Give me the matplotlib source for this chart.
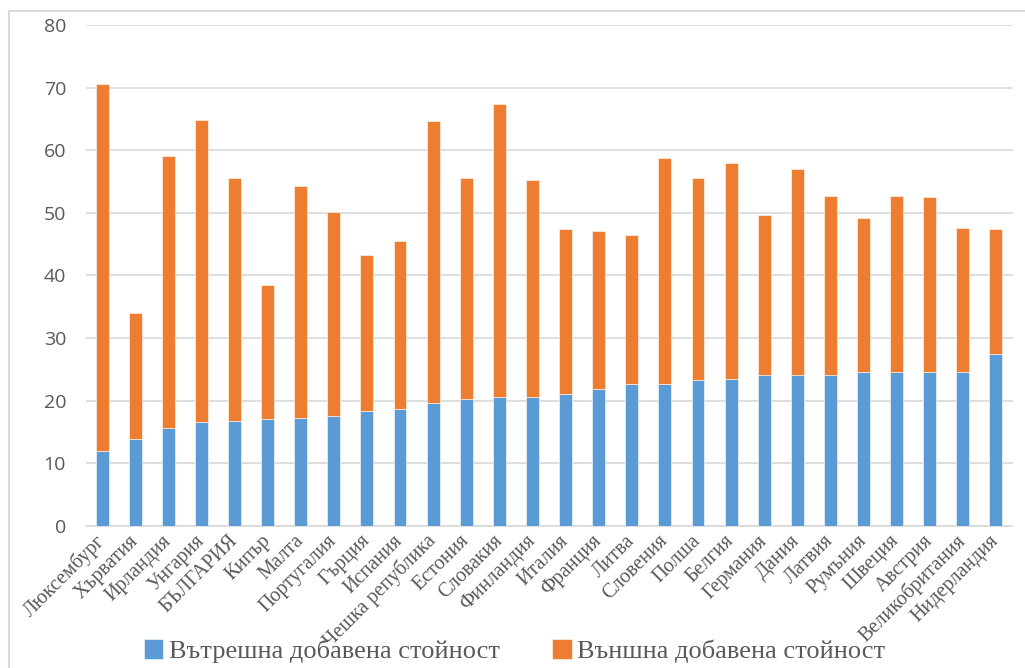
import matplotlib
matplotlib.use("Agg")
import matplotlib.pyplot as plt
import numpy as np

countries = [
    "Люксембург", "Хърватия", "Ирландия", "Унгария", "БЪЛГАРИЯ", "Кипър",
    "Малта", "Португалия", "Гърция", "Испания", "Чешка република", "Естония",
    "Словакия", "Финландия", "Италия", "Франция", "Литва", "Словения",
    "Полша", "Белгия", "Германия", "Дания", "Латвия", "Румъния", "Швеция",
    "Австрия", "Великобритания", "Нидерландия",
]

# Domestic value added share (%)
domestic = [
    11.9, 13.8, 15.6, 16.6, 16.7, 17.0, 17.2, 17.5, 18.3, 18.6, 19.6, 20.2,
    20.5, 20.5, 21.0, 21.8, 22.6, 22.6, 23.3, 23.5, 24.1, 24.1, 24.1, 24.6,
    24.6, 24.6, 24.6, 27.4,
]

# Total (domestic + foreign) value added share (%)
total = [
    70.5, 34.0, 59.0, 64.9, 55.5, 38.4, 54.2, 50.2, 43.2, 45.5, 64.6, 55.5,
    67.3, 55.3, 47.4, 47.1, 46.4, 58.7, 55.5, 57.9, 49.6, 57.0, 52.6, 49.1,
    52.6, 52.5, 47.6, 47.4,
]

foreign = [t - d for t, d in zip(total, domestic)]

series_labels = ["Вътрешна добавена стойност", "Външна добавена стойност"]
y_ticks = [0, 10, 20, 30, 40, 50, 60, 70, 80]

BLUE = "#5B9BD5"
ORANGE = "#ED7D31"
GRID = "#D9D9D9"
TEXT = "#595959"

fig = plt.figure(figsize=(10.25, 6.68), dpi=100)
# light chart-area frame
fig.patches.append(plt.Rectangle((9 / 1025, -0.1), 1.2, 1 - 11 / 668 + 0.1,
                                 transform=fig.transFigure, fill=False,
                                 edgecolor=GRID, linewidth=1.5))

ax = fig.add_axes([85.5 / 1025, 1 - 525.7 / 668, 927 / 1025, (525.7 - 25) / 668])

x = np.arange(len(countries))
w = 0.39
b1 = ax.bar(x, domestic, width=w, color=BLUE, edgecolor="white", linewidth=0.4,
            label=series_labels[0], zorder=3)
b2 = ax.bar(x, foreign, width=w, bottom=domestic, color=ORANGE, edgecolor="white",
            linewidth=0.4, label=series_labels[1], zorder=3)

ax.set_xlim(-0.5, len(countries) - 0.5)
ax.set_ylim(0, 80)
ax.set_yticks(y_ticks)
ax.set_yticklabels([str(v) for v in y_ticks], fontfamily="Open Sans",
                   fontsize=14, color=TEXT)
ax.yaxis.grid(True, color=GRID, linewidth=1.2, zorder=0)
ax.tick_params(axis="both", length=0)
ax.tick_params(axis="y", pad=14)

ax.set_xticks(x)
ax.set_xticklabels(countries, rotation=45, ha="right", va="center",
                   rotation_mode="anchor", fontfamily="Liberation Serif",
                   fontsize=14.5, color=TEXT)
ax.tick_params(axis="x", pad=9)

for s in ["top", "right", "left"]:
    ax.spines[s].set_visible(False)
ax.spines["bottom"].set_color(GRID)
ax.spines["bottom"].set_linewidth(1.2)

leg = fig.legend(handles=[b1, b2], labels=series_labels, loc="center",
                 bbox_to_anchor=(0.502, 0.025), ncol=2, frameon=False,
                 handlelength=0.75, handleheight=0.75, handletextpad=0.2,
                 columnspacing=2.0, borderaxespad=0,
                 prop={"family": "Liberation Serif", "size": 19})
for t in leg.get_texts():
    t.set_color(TEXT)

fig.savefig("out.png", dpi=100)
